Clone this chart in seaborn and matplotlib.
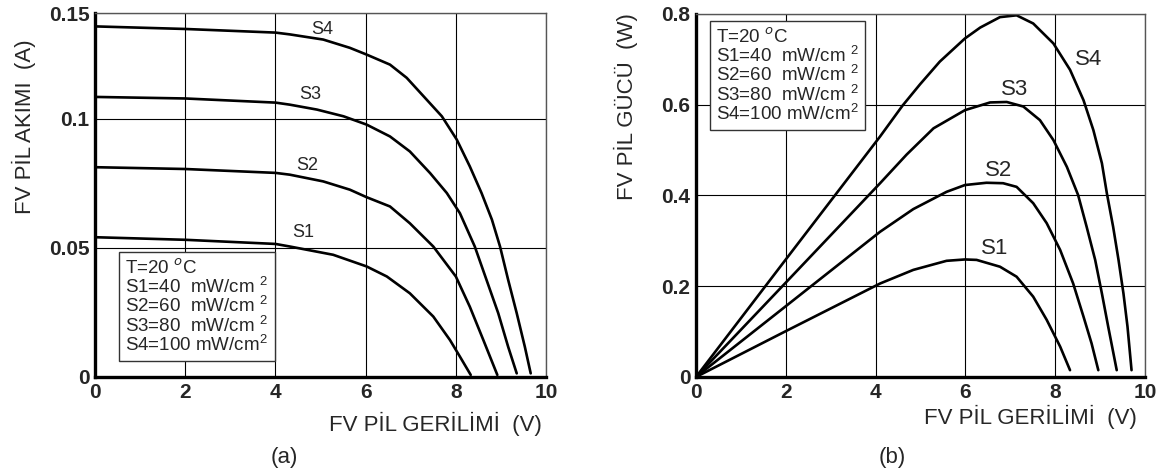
import pandas as pd
import seaborn as sns
import matplotlib.pyplot as plt

# I-V curves (panel a)
v_s1 = [0, 2, 4, 4.32, 5.28, 6.02, 6.47, 6.98, 7.5, 7.87, 8.09, 8.33]
i_s1 = [0.0541, 0.0531, 0.0515, 0.0505, 0.0473, 0.0428, 0.0389, 0.0324, 0.0234, 0.0143, 0.0079, 0.0008]
v_s2 = [0, 2, 4, 4.32, 5.06, 5.65, 6.02, 6.54, 6.98, 7.5, 8.0, 8.31, 8.61, 8.92]
i_s2 = [0.0812, 0.0805, 0.079, 0.0783, 0.0757, 0.0725, 0.0696, 0.066, 0.0595, 0.0505, 0.0389, 0.0272, 0.0143, 0.0008]
v_s3 = [0, 2, 4, 4.32, 4.92, 5.51, 6.02, 6.54, 6.98, 7.43, 7.8, 8.09, 8.42, 8.68, 8.94, 9.16, 9.35]
i_s3 = [0.1084, 0.1078, 0.1062, 0.1054, 0.1035, 0.1009, 0.0977, 0.0931, 0.0873, 0.0789, 0.0712, 0.0634,
        0.0505, 0.0376, 0.0247, 0.0117, 0.0014]
v_s4 = [0, 2, 4, 4.32, 5.06, 5.65, 6.02, 6.54, 6.91, 7.35, 7.69, 8.02, 8.31, 8.57, 8.8, 8.98, 9.16, 9.35, 9.53, 9.66]
i_s4 = [0.1357, 0.1347, 0.1333, 0.1326, 0.1306, 0.1274, 0.1248, 0.1209, 0.1158, 0.1074, 0.1009, 0.0919,
        0.0815, 0.0712, 0.0609, 0.0505, 0.0376, 0.0247, 0.0117, 0.0014]

# P-V curves (panel b)
pv_s1 = [0, 2, 4.1, 4.84, 5.58, 5.99, 6.25, 6.77, 7.14, 7.51, 7.81, 8.11, 8.33]
p_s1 = [0, 0.101, 0.206, 0.236, 0.256, 0.259, 0.258, 0.243, 0.221, 0.177, 0.126, 0.067, 0.015]
pv_s2 = [0, 2, 4.1, 4.84, 5.58, 5.99, 6.47, 6.84, 7.14, 7.51, 7.81, 8.11, 8.4, 8.63, 8.81, 8.96]
p_s2 = [0, 0.156, 0.32, 0.37, 0.408, 0.423, 0.428, 0.427, 0.419, 0.383, 0.339, 0.28, 0.206, 0.133,
        0.074, 0.015]
pv_s3 = [0, 2, 4.1, 4.69, 5.29, 5.99, 6.55, 6.92, 7.29, 7.66, 7.96, 8.26, 8.51, 8.7, 8.89, 9.04, 9.18, 9.37]
p_s3 = [0, 0.208, 0.427, 0.49, 0.548, 0.588, 0.605, 0.606, 0.596, 0.566, 0.522, 0.463, 0.401, 0.331,
        0.258, 0.184, 0.111, 0.015]
pv_s4 = [0, 2, 4.1, 4.6, 4.99, 5.43, 5.99, 6.33, 6.77, 7.14, 7.51, 7.96, 8.33, 8.63, 8.85, 9.04, 9.15, 9.29,
         9.41, 9.52, 9.61, 9.7]
p_s4 = [0, 0.259, 0.53, 0.598, 0.645, 0.695, 0.746, 0.77, 0.793, 0.797, 0.779, 0.735, 0.677, 0.61, 0.544,
        0.471, 0.405, 0.331, 0.258, 0.184, 0.111, 0.015]

names = ['S1', 'S2', 'S3', 'S4']
lbl_iv = [(4.62, 0.0558), (4.70, 0.0818), (4.77, 0.1093), (5.03, 0.1345)]
lbl_pv = [(6.66, 0.284), (6.73, 0.456), (7.10, 0.634), (8.74, 0.699)]

legend_txt = ('T=20 $^{o}$C\n'
              'S1=40  mW/cm $^{2}$\n'
              'S2=60  mW/cm $^{2}$\n'
              'S3=80  mW/cm $^{2}$\n'
              'S4=100 mW/cm$^{2}$')

iv = pd.concat([pd.DataFrame({'V': v, 'I': i, 's': n})
                for v, i, n in zip([v_s1, v_s2, v_s3, v_s4], [i_s1, i_s2, i_s3, i_s4], names)])
pv = pd.concat([pd.DataFrame({'V': v, 'P': p, 's': n})
                for v, p, n in zip([pv_s1, pv_s2, pv_s3, pv_s4], [p_s1, p_s2, p_s3, p_s4], names)])

sns.set_style('white')
plt.rcParams['font.family'] = ['Liberation Sans', 'DejaVu Sans']
plt.rcParams['mathtext.fontset'] = 'custom'
plt.rcParams['mathtext.rm'] = 'Liberation Sans'

fig = plt.figure(figsize=(11.66, 4.76), dpi=100)
ax1 = fig.add_axes([0.0815, 0.208, 0.3868, 0.7637])
ax2 = fig.add_axes([0.5969, 0.208, 0.3851, 0.7627])

pal = {n: 'black' for n in names}
sns.lineplot(data=iv, x='V', y='I', hue='s', palette=pal, sort=False, estimator=None,
             lw=1.9, legend=False, ax=ax1)
sns.lineplot(data=pv, x='V', y='P', hue='s', palette=pal, sort=False, estimator=None,
             lw=1.9, legend=False, ax=ax2)

for ax in (ax1, ax2):
    ax.set_xlim(0, 10)
    ax.set_xticks([0, 2, 4, 6, 8, 10])
    ax.grid(True, color='black', lw=0.8)
    ax.set_axisbelow(True)
    for sp in ('left', 'bottom'):
        ax.spines[sp].set_linewidth(2.4)
        ax.spines[sp].set_color('black')
    for sp in ('top', 'right'):
        ax.spines[sp].set_linewidth(1.0)
        ax.spines[sp].set_color('#555555')
    ax.tick_params(length=0, labelsize=15, pad=4)
    for t in ax.get_xticklabels():
        t.set_fontweight('bold')

# the upper edge of panel (a) is labelled 0.15 in the original, though it sits at ~0.141
ax1.set_ylim(0, 0.1407)
ax1.set_yticks([0, 0.05, 0.1, 0.1407])
ax1.set_yticklabels(['0', '0.05', '0.1', '0.15'], fontweight='bold')
ax2.set_ylim(0, 0.8)
ax2.set_yticks([0, 0.2, 0.4, 0.6, 0.8])
ax2.set_yticklabels(['0', '0.2', '0.4', '0.6', '0.8'], fontweight='bold')

ax1.set_xlabel('FV PİL GERİLİMİ  (V)', fontsize=16)
ax1.xaxis.set_label_coords(0.754, -0.097)
ax1.set_ylabel('FV PİL AKIMI  (A)', fontsize=16)
ax1.yaxis.set_label_coords(-0.13, 0.688)
ax2.set_xlabel('FV PİL GERİLİMİ  (V)', fontsize=16)
ax2.xaxis.set_label_coords(0.744, -0.076)
ax2.set_ylabel('FV PİL GÜCÜ  (W)', fontsize=16)
ax2.yaxis.set_label_coords(-0.129, 0.744)

for (x, y), n in zip(lbl_iv, names):
    ax1.text(x, y, n, fontsize=13, ha='center', va='center')
for (x, y), n in zip(lbl_pv, names):
    ax2.text(x, y, n, fontsize=16, ha='center', va='center')

box = dict(boxstyle='square,pad=0.35', fc='white', ec='#333333', lw=1.0)
ax1.text(0.067, 0.325, legend_txt, transform=ax1.transAxes, fontsize=13.5,
         va='top', ha='left', linespacing=0.9, bbox=box)
ax2.text(0.045, 0.962, legend_txt, transform=ax2.transAxes, fontsize=13.5,
         va='top', ha='left', linespacing=0.9, bbox=box)

fig.text(284 / 1166, 1 - 457 / 476, '(a)', fontsize=16, ha='center', va='center')
fig.text(892 / 1166, 1 - 457 / 476, '(b)', fontsize=16, ha='center', va='center')

fig.savefig('out.png', dpi=100)
